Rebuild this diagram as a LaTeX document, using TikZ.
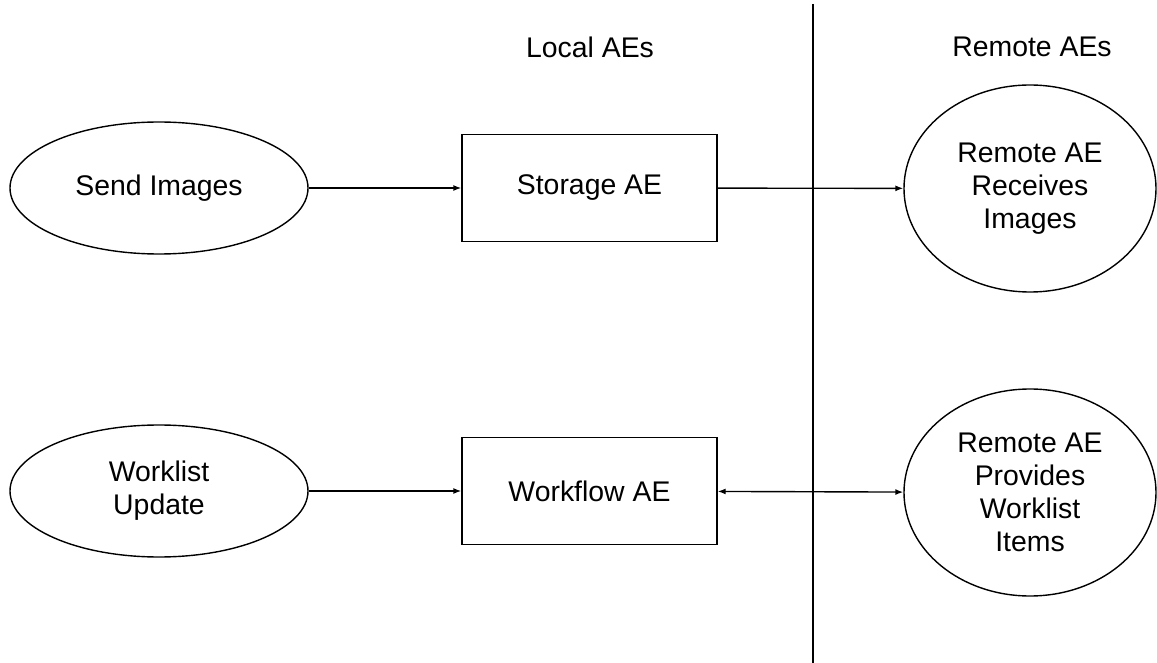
\documentclass[tikz,border=0pt]{standalone}
\usepackage{fontspec}
\setmainfont{Liberation Sans}
\usepackage{tikz}
\usetikzlibrary{
    arrows.meta,
    shapes.geometric
}

\begin{document}
\begin{tikzpicture}[x=0.5pt, y=-0.5pt, line width=0.7pt,
        >={Latex[length=4pt, width=3pt]},
        font=\fontsize{14.2}{16.5}\selectfont,
        usecase/.style={draw, ellipse, minimum width=149pt, minimum height=66pt, align=center},
        localae/.style={draw, rectangle, minimum width=127.5pt, minimum height=53.5pt},
        remoteae/.style={draw, ellipse, minimum width=126pt, minimum height=103.5pt, align=center, inner sep=0pt}]
                        \useasboundingbox (0, 0) rectangle (1157, 663);
                        \node at (590, 47) (localhead) {Local AEs};
                        \node at (1032, 47) (remotehead) {Remote AEs};
                        \coordinate (divtop) at (813, 4);
                        \coordinate (divbot) at (813, 663);
                        \draw (divtop) -- (divbot);
                        \node[usecase] at (159, 188) (send) {Send Images};
                        \node[usecase] at (159, 491) (update) {Worklist\\Update};
                        \node[localae] at (589.5, 188) (storage) {Storage AE};
                        \node[localae] at (589.5, 491) (workflow) {Workflow AE};
                        \node[remoteae] at (1030, 188.5) (receives) {Remote AE\\Receives\\Images};
                        \node[remoteae] at (1030, 492.5) (provides) {Remote AE\\Provides\\Worklist\\Items};
                        \draw
                        (send) edge[->] (storage)
                        (storage) edge[->] (receives)
                        (update) edge[->] (workflow)
                        (workflow) edge[<->] (provides);
                    \end{tikzpicture}
\end{document}
